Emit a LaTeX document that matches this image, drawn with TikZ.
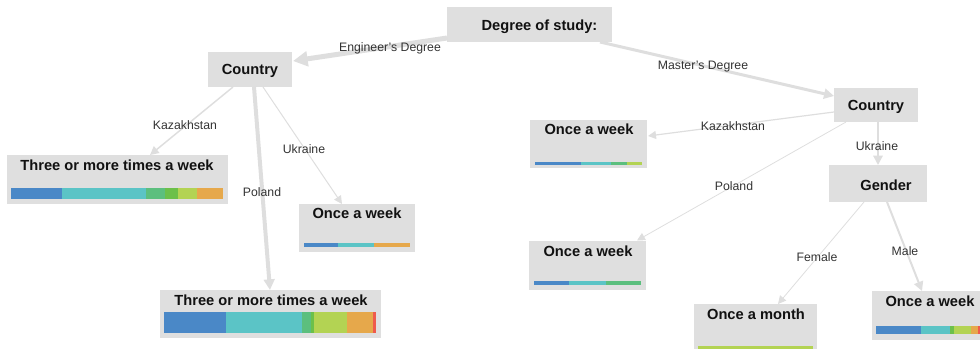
\documentclass[tikz,border=0pt]{standalone}
\usepackage{fontspec}
\setmainfont{Liberation Sans}
\usetikzlibrary{arrows.meta,calc}
\definecolor{boxgray}{RGB}{223,223,223}
\definecolor{edgegray}{RGB}{222,222,222}
\definecolor{titlecol}{RGB}{17,17,17}
\definecolor{labelcol}{RGB}{51,51,51}
\definecolor{cblue}{RGB}{74,136,199}
\definecolor{cteal}{RGB}{91,196,198}
\definecolor{csea}{RGB}{92,191,126}
\definecolor{cgreen}{RGB}{108,192,74}
\definecolor{cyg}{RGB}{179,211,83}
\definecolor{corange}{RGB}{230,168,75}
\definecolor{cred}{RGB}{239,90,76}
\tikzset{
  box/.style={fill=boxgray, draw=none, inner sep=0pt, outer sep=0pt},
  title/.style={font=\bfseries\fontsize{11}{13}\selectfont, text=titlecol, inner sep=0pt, anchor=base},
  elabel/.style={font=\fontsize{9.2}{11}\selectfont, text=labelcol, inner sep=0pt, anchor=base},
  edge/.style 2 args={draw=edgegray, line width=#1, -{Triangle[length=#2, width=#2]}},
}
\begin{document}
\begin{tikzpicture}[x=0.75pt, y=-0.75pt]
\useasboundingbox (0,0) rectangle (980,349);
\clip (0,0) rectangle (980,349);
% boxes
\node[box, minimum width=165*0.75pt, minimum height=35*0.75pt] (root) at (529.5,24.5) {};
\node[box, minimum width=84*0.75pt, minimum height=35*0.75pt] (cl) at (250,69.5) {};
\node[box, minimum width=84*0.75pt, minimum height=34*0.75pt] (cr) at (876,105) {};
\node[box, minimum width=98*0.75pt, minimum height=37*0.75pt] (gender) at (878,183.5) {};
\node[box, minimum width=221*0.75pt, minimum height=49*0.75pt] (l1) at (117.5,179.5) {};
\node[box, minimum width=116*0.75pt, minimum height=48*0.75pt] (l2) at (357,228) {};
\node[box, minimum width=221*0.75pt, minimum height=48*0.75pt] (l3) at (270.5,314) {};
\node[box, minimum width=117*0.75pt, minimum height=48*0.75pt] (r1) at (588.5,144) {};
\node[box, minimum width=117*0.75pt, minimum height=49*0.75pt] (r2) at (587.5,265.5) {};
\node[box, minimum width=117*0.75pt, minimum height=49*0.75pt] (r3) at (930.5,315.5) {};
\node[box, minimum width=123*0.75pt, minimum height=49*0.75pt] (om) at (755.5,328.5) {};
% titles
\node[title] (roott) at (539.5,31) {Degree of study:};
\node[title] (clt) at (250,75) {Country};
\node[title] (crt) at (876,111) {Country};
\node[title] (gendert) at (886,190) {Gender};
\node[title] (l1t) at (117,170) {Three or more times a week};
\node[title] (l2t) at (357,218) {Once a week};
\node[title] (l3t) at (271,305) {Three or more times a week};
\node[title] (r1t) at (589,135) {Once a week};
\node[title] (r2t) at (588,256) {Once a week};
\node[title] (omt) at (756,319) {Once a month};
\node[title] (r3t) at (930,306) {Once a week};
% bars
\fill[cblue] (11,188) rectangle (62,199);
\fill[cteal] (62,188) rectangle (146,199);
\fill[csea] (146,188) rectangle (165,199);
\fill[cgreen] (165,188) rectangle (178,199);
\fill[cyg] (178,188) rectangle (197,199);
\fill[corange] (197,188) rectangle (223,199);
%
\fill[cblue] (164,312) rectangle (226,333);
\fill[cteal] (226,312) rectangle (302,333);
\fill[csea] (302,312) rectangle (311,333);
\fill[cgreen] (311,312) rectangle (314,333);
\fill[cyg] (314,312) rectangle (347,333);
\fill[corange] (347,312) rectangle (373,333);
\fill[cred] (373,312) rectangle (376,333);
%
\fill[cblue] (304,243.3) rectangle (338,246.7);
\fill[cteal] (338,243.3) rectangle (374,246.7);
\fill[corange] (374,243.3) rectangle (410,246.7);
%
\fill[cblue] (535,161.5) rectangle (581,164.5);
\fill[cteal] (581,161.5) rectangle (611,164.5);
\fill[csea] (611,161.5) rectangle (627,164.5);
\fill[cyg] (627,161.5) rectangle (642,164.5);
%
\fill[cblue] (534,281) rectangle (569,284.5);
\fill[cteal] (569,281) rectangle (606,284.5);
\fill[csea] (606,281) rectangle (641,284.5);
%
\fill[cyg] (698,346) rectangle (813,349);
%
\fill[cblue] (876,326) rectangle (921,334);
\fill[cteal] (921,326) rectangle (950,334);
\fill[cgreen] (950,326) rectangle (954,334);
\fill[cyg] (954,326) rectangle (971,334);
\fill[corange] (971,326) rectangle (978,334);
\fill[cred] (978,326) rectangle (981,334);
% edges
\draw[edge={3.75pt}{11pt}] ($(root)+(-82.5,13.5)$) -- ($(cl)+(43,-8.5)$);
\draw[edge={2.25pt}{7.5pt}] ($(root)+(70.5,17.5)$) -- ($(cr)+(-42,-9)$);
\draw[edge={1.1pt}{6.5pt}] ($(cl)+(-17,17.5)$) -- ($(l1)+(32.5,-24.5)$);
\draw[edge={3pt}{8pt}] ($(cl)+(4,17.5)$) -- ($(l3)+(-0.5,-24)$);
\draw[edge={0.75pt}{6pt}] ($(cl)+(13,17.5)$) -- ($(l2)+(-15,-24)$);
\draw[edge={0.9pt}{6pt}] ($(cr)+(-42,7)$) -- ($(r1)+(59.5,-8)$);
\draw[edge={0.6pt}{6pt}] ($(cr)+(-30,17)$) -- ($(r2)+(49.5,-25)$);
\draw[edge={1.5pt}{7pt}] ($(cr)+(2,17)$) -- ($(gender)+(0,-18.5)$);
\draw[edge={0.6pt}{6pt}] ($(gender)+(-14,18.5)$) -- ($(om)+(22.5,-24.5)$);
\draw[edge={1.5pt}{7pt}] ($(gender)+(9,18.5)$) -- ($(r3)+(-8.5,-24.5)$);
% edge labels
\node[elabel] (lbeng) at (390,51.4) {Engineer's Degree};
\node[elabel] (lbmas) at (703,69.4) {Master's Degree};
\node[elabel] (lbkzl) at (185,129.4) {Kazakhstan};
\node[elabel] (lbukl) at (304,153.4) {Ukraine};
\node[elabel] (lbpll) at (262,196.4) {Poland};
\node[elabel] (lbkzr) at (733,130.4) {Kazakhstan};
\node[elabel] (lbukr) at (877,150.4) {Ukraine};
\node[elabel] (lbplr) at (734,190.4) {Poland};
\node[elabel] (lbfem) at (817,261.4) {Female};
\node[elabel] (lbmal) at (905,255.4) {Male};
\end{tikzpicture}
\end{document}
